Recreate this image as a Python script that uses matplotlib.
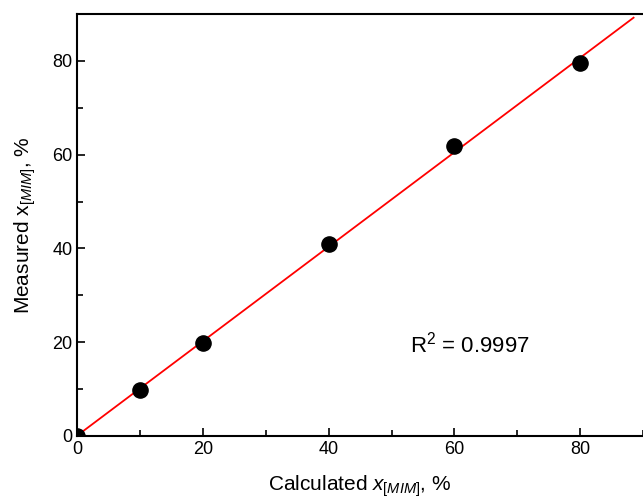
import numpy as np
import matplotlib
matplotlib.use("Agg")
import matplotlib.pyplot as plt
from matplotlib.ticker import MultipleLocator

plt.rcParams['font.family'] = ['Liberation Sans', 'DejaVu Sans']
plt.rcParams['mathtext.fontset'] = 'custom'
plt.rcParams['mathtext.rm'] = 'Liberation Sans'
plt.rcParams['mathtext.it'] = 'Liberation Sans:italic'

# calculated vs measured x[MIM], %
calculated = [0, 10, 20, 40, 60, 80]
measured = [0, 9.8, 19.9, 41.0, 61.8, 79.5]
r2_label = "R$^2$ = 0.9997"

fig = plt.figure(figsize=(6.43, 5.0), dpi=100)
ax = fig.add_axes([0.12, 0.128, 0.88, 0.844])

# linear fit through the points
slope, intercept = np.polyfit(calculated, measured, 1)
xf = np.array([0, 88.5])
ax.plot(xf, slope * xf + intercept, color='red', lw=1.3, zorder=2)

ax.scatter(calculated, measured, s=120, color='black', zorder=3)

ax.set_xlim(0, 90)
ax.set_ylim(0, 90)
ax.xaxis.set_major_locator(MultipleLocator(20))
ax.xaxis.set_minor_locator(MultipleLocator(10))
ax.yaxis.set_major_locator(MultipleLocator(20))
ax.yaxis.set_minor_locator(MultipleLocator(10))
ax.tick_params(which='both', direction='in', top=False, right=False,
               labelsize=13, width=1.2)
ax.tick_params(which='major', length=6)
ax.tick_params(which='minor', length=4)
ax.spines['right'].set_visible(False)
for s in ['left', 'bottom', 'top']:
    ax.spines[s].set_linewidth(1.5)

ax.set_xlabel("Calculated $\\mathit{x}_{\\mathit{[MIM]}}$, %", fontsize=15, labelpad=11)
ax.set_ylabel("Measured x$_{\\mathit{[MIM]}}$, %", fontsize=15, labelpad=10)

ax.text(52.9, 19.4, r2_label, fontsize=16, va='center')

fig.savefig("out.png", dpi=100)
